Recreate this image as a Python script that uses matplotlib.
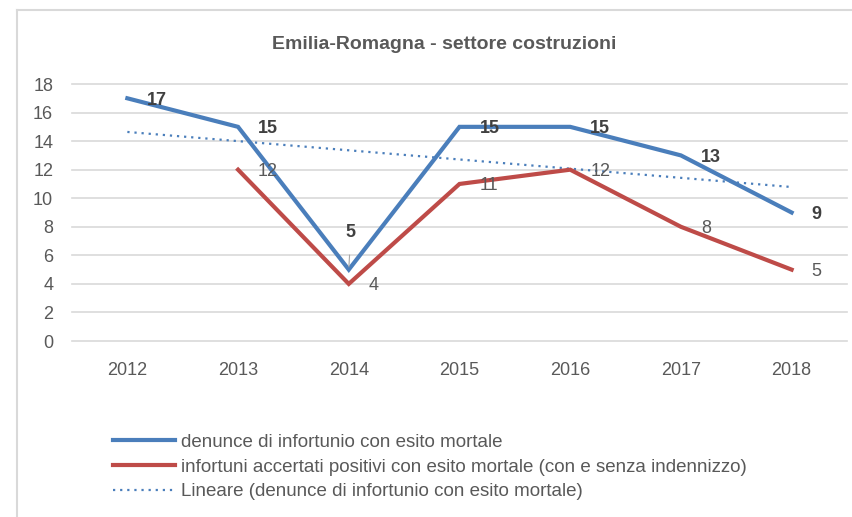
import numpy as np
import matplotlib
matplotlib.use("Agg")
import matplotlib.pyplot as plt
from matplotlib.lines import Line2D

plt.rcParams["font.family"] = ["Liberation Sans", "DejaVu Sans"]

years = ["2012", "2013", "2014", "2015", "2016", "2017", "2018"]
denunce = [17, 15, 5, 15, 15, 13, 9]
accertati = [None, 12, 4, 11, 12, 8, 5]

title = "Emilia-Romagna - settore costruzioni"
label_denunce = "denunce di infortunio con esito mortale"
label_accertati = "infortuni accertati positivi con esito mortale (con e senza indennizzo)"
label_trend = "Lineare (denunce di infortunio con esito mortale)"

BLUE = "#4A7EBB"
RED = "#BE4B48"
TEXT = "#595959"
GRID = "#D9D9D9"

fig = plt.figure(figsize=(8.52, 5.17), dpi=100)
ax = fig.add_axes([0.0845, 0.3404, 0.9096, 0.4971])

x = np.arange(len(years))
acc_x = np.array([i for i, v in enumerate(accertati) if v is not None])
acc_y = np.array([v for v in accertati if v is not None])

# linear trend of the first series (Excel "Lineare")
coef = np.polyfit(x, denunce, 1)
trend = np.polyval(coef, x)

ax.plot(x, denunce, color=BLUE, lw=3.0, solid_joinstyle="miter", zorder=3,
        label=label_denunce)
ax.plot(acc_x, acc_y, color=RED, lw=3.0, solid_joinstyle="miter", zorder=3,
        label=label_accertati)
ax.plot(x, trend, color=BLUE, lw=1.6, ls=(0, (1, 2.2)), zorder=2,
        label=label_trend)

# data labels
for i, v in enumerate(denunce):
    if i == 2:
        ax.annotate(str(v), (i, v), xytext=(2, 37), textcoords="offset pixels",
                    ha="center", va="center", fontsize=13, fontweight="bold",
                    color="#404040",
                    arrowprops=dict(arrowstyle="-", color="#A6A6A6", lw=0.8,
                                    shrinkA=8, shrinkB=2))
    else:
        ax.annotate(str(v), (i, v), xytext=(20, -2), textcoords="offset pixels",
                    ha="left", va="center", fontsize=13, fontweight="bold",
                    color="#404040")
for i, v in zip(acc_x, acc_y):
    ax.annotate(str(v), (i, v), xytext=(20, -2), textcoords="offset pixels",
                ha="left", va="center", fontsize=13, color=TEXT)

ax.set_xlim(-0.5, len(years) - 0.5)
ax.set_ylim(0, 18)
ax.set_yticks(range(0, 19, 2))
ax.set_xticks(x)
ax.set_xticklabels(years)
ax.grid(axis="y", color=GRID, lw=1.2)
for gl in ax.get_ygridlines():
    gl.set_clip_on(False)
ax.set_axisbelow(True)
for s in ax.spines.values():
    s.set_visible(False)
ax.tick_params(length=0, labelsize=13, colors=TEXT)
ax.tick_params(axis="x", pad=15)
ax.tick_params(axis="y", pad=13.5)

fig.text(0.521, 0.913, title, ha="center", va="center", fontsize=14,
         fontweight="bold", color=TEXT)

leg = fig.legend(loc="upper left", bbox_to_anchor=(0.133, 0.161), frameon=False,
                 fontsize=13.5, handlelength=3.3, handletextpad=0.3,
                 labelspacing=0.4, borderaxespad=0, borderpad=0)
for t in leg.get_texts():
    t.set_color(TEXT)

# chart frame (cropped on the right and bottom)
fig.add_artist(Line2D([17 / 852, 17 / 852], [0, 1 - 10 / 517], color=GRID, lw=1.5,
                      transform=fig.transFigure))
fig.add_artist(Line2D([17 / 852, 1], [1 - 10 / 517, 1 - 10 / 517], color=GRID, lw=1.5,
                      transform=fig.transFigure))

fig.savefig("out.png", dpi=100)
